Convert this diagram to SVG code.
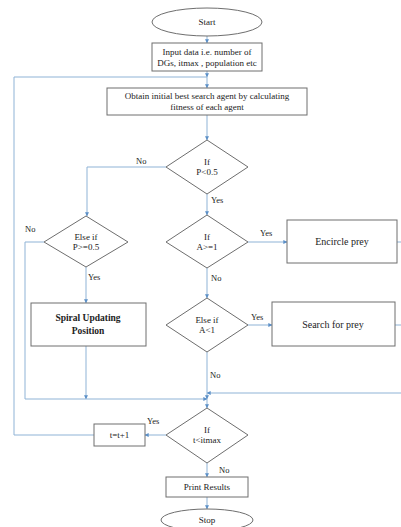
<svg xmlns="http://www.w3.org/2000/svg" width="401" height="527" viewBox="0 0 401 527">
<style>
.box{fill:#fff;stroke:#6e6e6e;stroke-width:1}
.ln{fill:none;stroke:#8fb3d6;stroke-width:1}
.t{font-family:"Liberation Serif",serif;font-size:9px;fill:#222;text-anchor:middle}
.m{font-size:10px}
.b{font-weight:bold;font-size:9.5px}
.lbl{font-family:"Liberation Serif",serif;font-size:8.5px;fill:#222}
</style>
<defs>
<marker id="ar" viewBox="0 0 6 6" refX="5.5" refY="3" markerWidth="4" markerHeight="4" orient="auto">
<path d="M0,0 L6,3 L0,6 z" fill="#5b8fc7"/>
</marker>
</defs>
<rect width="401" height="527" fill="#fff"/>
<g id="connectors">
<path class="ln" d="M207,36 V43" marker-end="url(#ar)"/>
<path class="ln" d="M207,71 V77" marker-end="url(#ar)"/>
<path class="ln" d="M207,77 V88" marker-end="url(#ar)"/>
<path class="ln" d="M207,115 V140" marker-end="url(#ar)"/>
<path class="ln" d="M166,167 H87 V216" marker-end="url(#ar)"/>
<path class="ln" d="M207,194 V215" marker-end="url(#ar)"/>
<path class="ln" d="M248,242 H287" marker-end="url(#ar)"/>
<path class="ln" d="M86,267 V303" marker-end="url(#ar)"/>
<path class="ln" d="M207,268 V298" marker-end="url(#ar)"/>
<path class="ln" d="M248,325 H272" marker-end="url(#ar)"/>
<path class="ln" d="M397,242 H401"/>
<path class="ln" d="M395,325 H401"/>
<path class="ln" d="M401,393 H207" marker-end="url(#ar)"/>
<path class="ln" d="M207,352 V399" marker-end="url(#ar)"/>
<path class="ln" d="M86,346 V399" marker-end="url(#ar)"/>
<path class="ln" d="M44,242 H25 V399 H207" marker-end="url(#ar)"/>
<path class="ln" d="M207,399 V408" marker-end="url(#ar)"/>
<path class="ln" d="M166,435 H145" marker-end="url(#ar)"/>
<path class="ln" d="M94,435 H14 V77 H207"/>
<path class="ln" d="M207,463 V477" marker-end="url(#ar)"/>
<path class="ln" d="M207,497 V509" marker-end="url(#ar)"/>
<text class="lbl" x="136" y="164">No</text>
<text class="lbl" x="211" y="203">Yes</text>
<text class="lbl" x="25" y="232">No</text>
<text class="lbl" x="260" y="236">Yes</text>
<text class="lbl" x="88" y="280">Yes</text>
<text class="lbl" x="211" y="281">No</text>
<text class="lbl" x="251" y="320">Yes</text>
<text class="lbl" x="210" y="378">No</text>
<text class="lbl" x="147" y="424">Yes</text>
<text class="lbl" x="219" y="473">No</text>
</g>
<g id="start"><ellipse class="box" cx="207" cy="22" rx="55" ry="14"/><text class="t" x="207" y="25">Start</text></g>
<g id="input"><rect class="box" x="152" y="43" width="110" height="28"/><text class="t" x="207" y="55">Input data i.e. number of</text><text class="t" x="207" y="66">DGs, itmax , population etc</text></g>
<g id="obtain"><rect class="box" x="107" y="88" width="200" height="27"/><text class="t" x="207" y="99">Obtain initial best search agent by calculating</text><text class="t" x="207" y="110">fitness of each agent</text></g>
<g id="d_p"><polygon class="box" points="207,140 248,167 207,194 166,167"/><text class="t" x="207" y="165">If</text><text class="t" x="207" y="175">P&lt;0.5</text></g>
<g id="d_p2"><polygon class="box" points="86,216 128,242 86,267 44,242"/><text class="t" x="86" y="240">Else if</text><text class="t" x="86" y="250">P&gt;=0.5</text></g>
<g id="d_a1"><polygon class="box" points="207,215 248,242 207,268 166,242"/><text class="t" x="207" y="240">If</text><text class="t" x="207" y="250">A&gt;=1</text></g>
<g id="encircle"><rect class="box" x="287" y="220" width="110" height="43"/><text class="t m" x="342" y="245">Encircle prey</text></g>
<g id="spiral"><rect class="box" x="31" y="303" width="115" height="43"/><text class="t b" x="88" y="321">Spiral Updating</text><text class="t b" x="88" y="334">Position</text></g>
<g id="d_a2"><polygon class="box" points="207,298 248,325 207,352 166,325"/><text class="t" x="207" y="323">Else if</text><text class="t" x="207" y="333">A&lt;1</text></g>
<g id="search"><rect class="box" x="272" y="302" width="123" height="44"/><text class="t m" x="333" y="328">Search for prey</text></g>
<g id="d_t"><polygon class="box" points="207,408 248,435 207,463 166,435"/><text class="t" x="207" y="433">If</text><text class="t" x="207" y="443">t&lt;itmax</text></g>
<g id="incr"><rect class="box" x="94" y="424" width="51" height="22"/><text class="t" x="119.5" y="438">t=t+1</text></g>
<g id="print"><rect class="box" x="166" y="477" width="82" height="20"/><text class="t" x="207" y="490">Print Results</text></g>
<g id="stop"><ellipse class="box" cx="207" cy="520" rx="46" ry="11"/><text class="t" x="207" y="523">Stop</text></g>
</svg>
